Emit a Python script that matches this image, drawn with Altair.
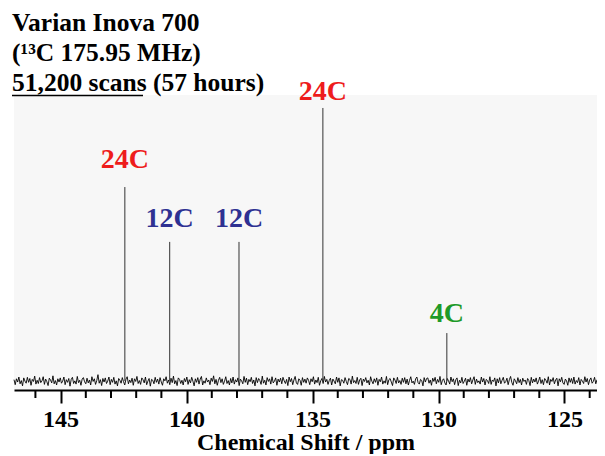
import altair as alt
import pandas as pd
import numpy as np

# ---------------- data ----------------
title_lines = ["Varian Inova 700", "(\u00b9\u00b3C 175.95 MHz)", "51,200 scans (57 hours)"]
underlined = "51,200 scans"

peak_ppm = [142.45, 140.67, 137.92, 134.59, 129.67]
peak_height = [68.8, 50.2, 50.2, 95.6, 19.3]
peak_label = ["24C", "12C", "12C", "24C", "4C"]
label_y = [75.3, 55.3, 55.3, 98.3, 23.1]
peak_color = ["#ee1c1c", "#2e3192", "#2e3192", "#ee1c1c", "#1e9a28"]

baseline_level = 3.0
ppm_start, ppm_end = 146.85, 123.71
major_ticks = [145, 140, 135, 130, 125]
minor_ticks = [146, 144, 143, 142, 141, 139, 138, 137, 136, 134, 133, 132,
               131, 129, 128, 127, 126, 124]
axis_title = "Chemical Shift / ppm"

# baseline noise, left to right (tenths of a unit)
noise = [
    5, -12, 8, -3, 14, -9, 2, -16, 11, 0, -7, 13, -4, 9, -14, 6, -1, 17, -10, 3,
    -8, 12, -5, 1, 15, -11, 7, -2, -15, 10, 4, -6, 18, -9, 2, -13, 8, -3, 11, -7,
    0, 14, -12, 5, -4, 9, -17, 6, 13, -8, 1, -10, 16, -5, 3, -14, 7, 12, -2, -9,
    10, -6, 4, -13, 15, -1, 8, -11, 2, 22, -7, 5, -15, 9, -3, 11, -8, 0, 14, -12,
    6, -4, 13, -10, 1, -16, 9, 3, -7, 12, -2, -13, 7, 15, -9, 4, -5, 10, -14, 8,
    -1, 16, -8, 2, -11, 11, 5, -6, 14, -12, 0, 9, -17, 6, 3, -9, 13, -4, 7, -10,
    12, -3, -14, 8, 1, 15, -7, 4, -12, 10, -5, 17, -9, 2, -15, 11, 6, -8, 3, -13,
    9, -2, 14, -11, 5, -6, 13, 0, -16, 8, -4, 12, -10, 7, 16, -13, 1, -7, 11, -3,
    4, -12, 10, -1, 18, -9, 6, -14, 3, 13, -5, 8, -11, 0, 15, -8, 2, -13, 9, -6,
    14, -10, 5, -3, 11, -15, 7, 1, -9, 16, -4, 10, -12, 6, -2, 13, -8, 4, -16, 12,
    -5, 9, 2, -11, 17, -7, 3, -13, 12, -1, 8, -10, 15, -6, 0, 11, -14, 7, -3, 10,
    -9, 13, 1, -8, 6, -15, 14, -2, 9, -12, 4, 16, -6, -11, 8, 3, -14, 12, -4, 7,
    -7, 11, 3, -12, 8, -2, 15, -10, 4, -5, 13, -14, 1, 9, -8, 16, -3, 6, -11, 2,
    10, -13, 7, 0, -9, 14, -4, 11, -16, 5, 3, -7, 12, -1, -12, 9, 6, -10, 17, -5,
    2, -8, 13, -11, 4, 10, -15, 7, -1, 12, -6, 3, -13, 15, 0, -9, 8, -4, 11, -14,
    6, -2, 14, -10, 1, -7, 16, -12, 5, 9, -3, -15, 11, 4, -8, 13, -6, 2, -11, 10,
    -4, 12, -9, 7, -13, 3, 15, -6, 0, -11, 8, 14, -5, -10, 6, 2, -16, 12, -3, 9,
    11, -7, 4, -14, 10, -1, 13, -9, 6, -4, 16, -12, 3, 8, -6, -13, 9, 1, -10, 14,
    -2, 8, -12, 5, 11, -15, 3, -6, 13, -8, 0, 10, -14, 7, -3, 12, -9, 4, 15, -11,
    7, -5, 1, -10, 14, -3, 9, -13, 6, 2, -8, 15, -11, 4, -1, 11, -16, 8, -6, 12,
    -9, 3, 13, -7, -2, 10, -12, 5, 16, -4, -14, 8, 1, -9, 12, -5, 6, -13, 10, -1,
    4, -11, 9, 2, -15, 13, -6, 7, -3, 11, -10, 0, 14, -8, 5, -12, 9, 3, -7, 15,
    -13, 6, -1, 12, -9, 4, 10, -16, 8, -2, 13, -6, -11, 7, 1, -14, 11, -4, 9, -8,
    14, -10, 2, -5, 12, -13, 6, 0, -8, 15, -3, 9, -12, 4, 11, -7, -1, 13, -9, 5,
]

# ---------------- tables ----------------
noise_df = pd.DataFrame({
    "ppm": np.linspace(ppm_start, ppm_end, len(noise)),
    "y": [baseline_level + v / 10.0 for v in noise],
})
peaks_df = pd.DataFrame({
    "ppm": peak_ppm,
    "top": peak_height,
    "base": [baseline_level] * len(peak_ppm),
    "label": peak_label,
    "ly": label_y,
    "color": peak_color,
})
minor_df = pd.DataFrame({"ppm": minor_ticks})

FONT = "Liberation Serif"

x_scale = alt.Scale(domain=[ppm_start, ppm_end], nice=False, zero=False)
y_scale = alt.Scale(domain=[0, 100], nice=False, zero=False)

x_axis = alt.Axis(
    values=major_ticks,
    tickSize=13,
    tickColor="black",
    tickWidth=2,
    domainColor="black",
    domainWidth=2,
    grid=False,
    labelFont=FONT,
    labelFontSize=24,
    labelFontWeight="bold",
    labelColor="black",
    labelPadding=4,
    labelFlush=False,
    labelOverlap=False,
    title=axis_title,
    titleFont=FONT,
    titleFontSize=24,
    titleFontWeight="bold",
    titleColor="black",
    titlePadding=-1,
)

spectrum = alt.Chart(noise_df).mark_line(color="black", strokeWidth=0.9).encode(
    x=alt.X("ppm:Q", scale=x_scale, axis=x_axis),
    y=alt.Y("y:Q", scale=y_scale, axis=None),
)

minor_tick_marks = alt.Chart(minor_df).mark_rule(color="black", strokeWidth=2).encode(
    x=alt.X("ppm:Q", scale=x_scale),
    y=alt.value(295),
    y2=alt.value(303),
)

peak_lines = alt.Chart(peaks_df).mark_rule(color="#333333", strokeWidth=1).encode(
    x=alt.X("ppm:Q", scale=x_scale),
    y=alt.Y("base:Q", scale=y_scale),
    y2="top:Q",
)

peak_text = alt.Chart(peaks_df).mark_text(
    font=FONT, fontSize=28, fontWeight="bold", baseline="alphabetic", align="center"
).encode(
    x=alt.X("ppm:Q", scale=x_scale),
    y=alt.Y("ly:Q", scale=y_scale),
    text="label:N",
    color=alt.Color("color:N", scale=None),
)

title_layers = []
for i, line in enumerate(title_lines):
    title_layers.append(
        alt.Chart(pd.DataFrame({"t": [line]})).mark_text(
            font=FONT, fontSize=25.5, fontWeight="bold", baseline="alphabetic",
            align="left", color="black"
        ).encode(
            x=alt.value(-2),
            y=alt.value(-64 + 30 * i),
            text="t:N",
        )
    )

underline = alt.Chart(pd.DataFrame({"t": [underlined]})).mark_rule(
    color="black", strokeWidth=1.5
).encode(
    x=alt.value(-2), x2=alt.value(129), y=alt.value(0.5)
)

chart = alt.layer(
    spectrum, minor_tick_marks, peak_lines, peak_text, *title_layers, underline
).properties(
    width=583,
    height=295,
    autosize=alt.AutoSizeParams(type="none"),
    padding={"left": 6, "top": 87, "right": 0, "bottom": 64},
).configure_view(stroke=None, fill="#f7f7f7")

chart.save("out.html", embed_options={"renderer": "svg", "actions": False})
